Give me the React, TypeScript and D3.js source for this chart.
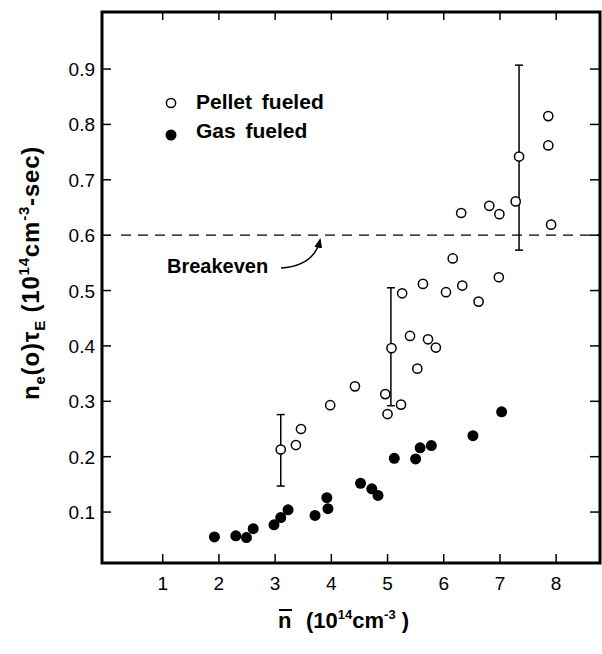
import * as d3 from 'd3';

// pellet fueled (open circles)
const pelletX = [3.10, 3.37, 3.46, 3.98, 4.42, 4.96, 5.00, 5.07, 5.24, 5.26, 5.40, 5.53, 5.63, 5.72, 5.86, 6.04, 6.16, 6.31, 6.33, 6.62, 6.81, 6.98, 6.99, 7.28, 7.34, 7.86, 7.86, 7.91];
const pelletY = [0.213, 0.221, 0.250, 0.293, 0.327, 0.313, 0.277, 0.396, 0.294, 0.495, 0.418, 0.359, 0.512, 0.412, 0.397, 0.497, 0.558, 0.640, 0.509, 0.480, 0.653, 0.524, 0.638, 0.661, 0.742, 0.815, 0.762, 0.619];

// gas fueled (filled circles)
const gasX = [1.92, 2.30, 2.49, 2.61, 2.98, 3.10, 3.23, 3.71, 3.92, 3.94, 4.52, 4.72, 4.83, 5.12, 5.50, 5.58, 5.78, 6.52, 7.03];
const gasY = [0.055, 0.057, 0.054, 0.070, 0.077, 0.090, 0.104, 0.094, 0.126, 0.106, 0.152, 0.142, 0.130, 0.197, 0.196, 0.216, 0.220, 0.238, 0.281];

// error bars
const errX = [3.10, 5.06, 7.34];
const errLow = [0.147, 0.292, 0.573];
const errHigh = [0.276, 0.505, 0.907];

const xTicks = [1, 2, 3, 4, 5, 6, 7, 8];
const yTicks = [0.1, 0.2, 0.3, 0.4, 0.5, 0.6, 0.7, 0.8, 0.9];
const breakeven = 0.6;

const W = 602;
const H = 654;

export default function App() {
  const x = d3.scaleLinear().domain([-0.08, 8.78]).range([102, 600]);
  const y = d3.scaleLinear().domain([0.008, 1.003]).range([563, 12]);

  const [x0, x1] = x.range();
  const [y0, y1] = y.range();

  const sans = "'Liberation Sans', Arial, sans-serif";

  // curved arrow from label to the dashed line
  const arrow = d3.path();
  arrow.moveTo(281, 268);
  arrow.quadraticCurveTo(314, 266, 320, 240);

  return (
    <svg width={W} height={H} style={{ position: 'absolute', left: 0, top: 0, background: '#fff' }}>
      <defs>
        <marker id="ah" viewBox="0 0 10 10" refX="8" refY="5" markerWidth="7" markerHeight="7" orient="auto">
          <path d="M0,1 L10,5 L0,9 z" fill="#000" />
        </marker>
      </defs>

      {/* frame */}
      <rect x={x0} y={y1} width={x1 - x0} height={y0 - y1} fill="none" stroke="#000" strokeWidth={3} />

      {/* ticks */}
      {xTicks.map((t) => (
        <g key={'xt' + t}>
          <line x1={x(t)} x2={x(t)} y1={y0} y2={y0 - 9} stroke="#000" strokeWidth={1.5} />
          <line x1={x(t)} x2={x(t)} y1={y1} y2={y1 + 8} stroke="#000" strokeWidth={1.5} />
          <text x={x(t)} y={590} textAnchor="middle" fontFamily={sans} fontSize={19}>
            {t}
          </text>
        </g>
      ))}
      {yTicks.map((t) => (
        <g key={'yt' + t}>
          <line x1={x0} x2={x0 + 9} y1={y(t)} y2={y(t)} stroke="#000" strokeWidth={1.5} />
          <line x1={x1} x2={x1 - 10} y1={y(t)} y2={y(t)} stroke="#000" strokeWidth={1.5} />
          <text x={95} y={y(t) + 7} textAnchor="end" fontFamily={sans} fontSize={19}>
            {t.toFixed(1)}
          </text>
        </g>
      ))}

      {/* breakeven */}
      <line x1={121} x2={x1} y1={y(breakeven)} y2={y(breakeven)} stroke="#000" strokeWidth={1.4} strokeDasharray="10 7" />
      <text x={167} y={273} fontFamily={sans} fontSize={20} fontWeight="bold">
        Breakeven
      </text>
      <path d={arrow.toString()} fill="none" stroke="#000" strokeWidth={1.4} markerEnd="url(#ah)" />

      {/* error bars */}
      {errX.map((e, i) => (
        <g key={'e' + i} stroke="#000" strokeWidth={1.5}>
          <line x1={x(e)} x2={x(e)} y1={y(errLow[i])} y2={y(errHigh[i])} />
          <line x1={x(e) - 4} x2={x(e) + 4} y1={y(errLow[i])} y2={y(errLow[i])} />
          <line x1={x(e) - 4} x2={x(e) + 4} y1={y(errHigh[i])} y2={y(errHigh[i])} />
        </g>
      ))}

      {/* points */}
      {pelletX.map((v, i) => (
        <circle key={'p' + i} cx={x(v)} cy={y(pelletY[i])} r={4.6} fill="#fff" stroke="#000" strokeWidth={1.5} />
      ))}
      {gasX.map((v, i) => (
        <circle key={'g' + i} cx={x(v)} cy={y(gasY[i])} r={5.5} fill="#000" />
      ))}

      {/* legend */}
      <circle cx={171} cy={103} r={4.6} fill="#fff" stroke="#000" strokeWidth={1.5} />
      <text x={196} y={109} fontFamily={sans} fontSize={21} fontWeight="bold" wordSpacing={4}>
        Pellet fueled
      </text>
      <circle cx={171} cy={135} r={5.5} fill="#000" />
      <text x={196} y={138} fontFamily={sans} fontSize={21} fontWeight="bold" wordSpacing={4}>
        Gas fueled
      </text>

      {/* x axis title */}
      <text x={278} y={628} fontFamily={sans} fontSize={22} fontWeight="bold">
        n
      </text>
      <line x1={279} x2={292} y1={610} y2={610} stroke="#000" strokeWidth={2} />
      <text x={306} y={628} fontFamily={sans} fontSize={22} fontWeight="bold">
        (10
        <tspan dy={-9} fontSize={13}>14</tspan>
        <tspan dy={9}>cm</tspan>
        <tspan dy={-9} fontSize={13}>-3</tspan>
        <tspan dy={9}> )</tspan>
      </text>

      {/* y axis title */}
      <text transform="translate(39,400) rotate(-90)" fontFamily={sans} fontSize={24} fontWeight="bold" letterSpacing={0.8}>
        n
        <tspan dy={6} fontSize={15}>e</tspan>
        <tspan dy={-6}>(o)τ</tspan>
        <tspan dy={6} fontSize={15}>E</tspan>
        <tspan dy={-6}> (10</tspan>
        <tspan dy={-10} fontSize={15}>14</tspan>
        <tspan dy={10}>cm</tspan>
        <tspan dy={-10} fontSize={15}>-3</tspan>
        <tspan dy={10}>-sec)</tspan>
      </text>
    </svg>
  );
}
